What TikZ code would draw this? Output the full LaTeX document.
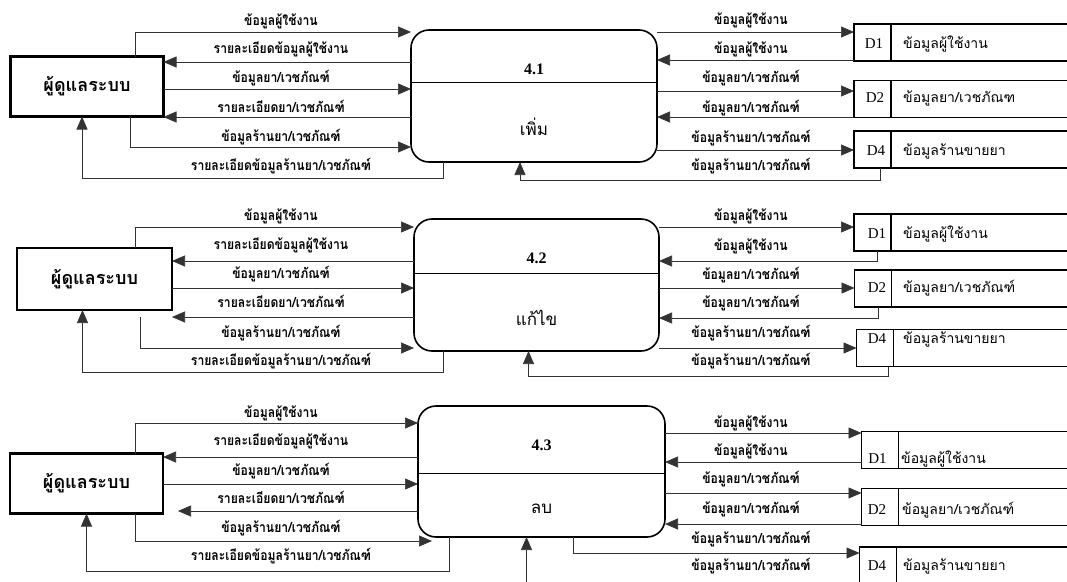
\documentclass[tikz,border=0pt]{standalone}
\usepackage{fontspec}
\setmainfont{Liberation Serif}
\newfontfamily\thai[Script=Thai]{Loma}
\newfontfamily\thailbl[Script=Thai,FakeStretch=0.87]{Loma}
\usetikzlibrary{arrows.meta}

\begin{document}
\begin{tikzpicture}[>={Triangle[length=13pt,width=11pt]},
                    x=1pt,y=-1pt,
                    flow/.style={->,line width=0.7pt,draw=black!80},
                    lbl/.style={anchor=base,inner sep=0pt,font=\thailbl\bfseries\fontsize{14}{16}\selectfont},
                    entity/.style={draw,line width=2.4pt,outer sep=0pt,
                                   minimum width=153pt,minimum height=60pt,
                                   font=\thai\bfseries\fontsize{18}{20}\selectfont},
                    proc/.style={draw,line width=1.6pt,outer sep=0pt,rounded corners=18pt,
                                 minimum width=246pt,minimum height=132pt},
                    pnum/.style={anchor=base,font=\bfseries\fontsize{16}{18}\selectfont},
                    pname/.style={anchor=base,font=\thai\fontsize{17}{19}\selectfont},
                    sid/.style={draw,line width=1.6pt,outer sep=0pt,
                                minimum width=37pt,minimum height=37pt},
                    sidt/.style={anchor=base,font=\fontsize{15}{17}\selectfont},
                    stxt/.style={anchor=base west,inner sep=0pt,font=\thai\fontsize{14}{16}\selectfont},
                    sline/.style={line width=1.6pt}]

\useasboundingbox (0,0) rectangle (1067,581);

% ---- 4.1 add
\draw node[entity] (A1) at (87,86.5) {ผู้ดูแลระบบ}
      node[proc] (P1) at (534,96) {}
      node[pnum] (P1n) at (534,74) {4.1}
      node[pname] (P1t) at (534,135) {เพิ่ม};
\draw (P1.west |- 0,82) -- (P1.east |- 0,82);

\draw node[sid] (S11) at (872.5,42.5) {}
      node[sidt] (S11i) at (874,48) {D1}
      node[stxt] (S11t) at (903,48) {ข้อมูลผู้ใช้งาน}
      node[sid] (S12) at (872.5,99) {}
      node[sidt] (S12i) at (875,102) {D2}
      node[stxt] (S12t) at (903,102) {ข้อมูลยา/เวชภัณฑ}
      node[sid] (S14) at (872.5,149.5) {}
      node[sidt] (S14i) at (876,155) {D4}
      node[stxt] (S14t) at (903,155) {ข้อมูลร้านขายยา};
\draw[sline] (S11.north east) -- (S11.north east -| 1067,0)
             (S11.south east) -- (S11.south east -| 1067,0)
             (S12.north east) -- (S12.north east -| 1067,0)
             (S12.south east) -- (S12.south east -| 1067,0)
             (S14.north east) -- (S14.north east -| 1067,0)
             (S14.south east) -- (S14.south east -| 1067,0);

\draw[flow] ([xshift=-28pt]A1.north east) |- (P1.west |- 0,32);
\draw[flow] (P1.west |- 0,62) -- (A1.east |- 0,62);
\draw[flow] (A1.east |- 0,89) -- (P1.west |- 0,89);
\draw[flow] (P1.west |- 0,117) -- (A1.east |- 0,117);
\draw[flow] ([xshift=-33pt]A1.south east) |- (P1.west |- 0,147);
\draw[flow] ([xshift=32pt]P1.south west) -- ++(0,16) -| ([xshift=-5pt]A1.south);

\draw[flow] (P1.east |- 0,32) -- (S11.west |- 0,32);
\draw[flow] (S11.west |- 0,60) -- (P1.east |- 0,60);
\draw[flow] (P1.east |- 0,91) -- (S12.west |- 0,91);
\draw[flow] (S12.west |- 0,117) -- (P1.east |- 0,117);
\draw[flow] (P1.east |- 0,150) -- (S14.west |- 0,150);
\draw[flow] ([xshift=-11pt]S14.south east) -- ++(0,12) -| ([xshift=-14pt]P1.south);

\draw node[lbl] (L11) at (281,25) {ข้อมูลผู้ใช้งาน}
      node[lbl] (L12) at (281,53) {รายละเอียดข้อมูลผู้ใช้งาน}
      node[lbl] (L13) at (281,82) {ข้อมูลยา/เวชภัณฑ์}
      node[lbl] (L14) at (281,112) {รายละเอียดยา/เวชภัณฑ์}
      node[lbl] (L15) at (281,141) {ข้อมูลร้านยา/เวชภัณฑ์}
      node[lbl] (L16) at (281,170) {รายละเอียดข้อมูลร้านยา/เวชภัณฑ์}
      node[lbl] (R11) at (751,24) {ข้อมูลผู้ใช้งาน}
      node[lbl] (R12) at (751,53) {ข้อมูลผู้ใช้งาน}
      node[lbl] (R13) at (751,82) {ข้อมูลยา/เวชภัณฑ์}
      node[lbl] (R14) at (751,112) {ข้อมูลยา/เวชภัณฑ์}
      node[lbl] (R15) at (751,142) {ข้อมูลร้านยา/เวชภัณฑ์}
      node[lbl] (R16) at (751,170) {ข้อมูลร้านยา/เวชภัณฑ์};

% ---- 4.2 edit
\draw node[entity,minimum width=155pt,minimum height=62pt] (A2) at (94.5,279) {ผู้ดูแลระบบ}
      node[proc,minimum width=245pt] (P2) at (536.5,285) {}
      node[pnum] (P2n) at (536.5,263) {4.2}
      node[pname] (P2t) at (536.5,325) {แก้ไข};
\draw (P2.west |- 0,273) -- (P2.east |- 0,273);

\draw node[sid] (S21) at (872.5,232.5) {}
      node[sidt] (S21i) at (877,238) {D1}
      node[stxt] (S21t) at (903,238) {ข้อมูลผู้ใช้งาน}
      node[sid] (S22) at (873,288.5) {}
      node[sidt] (S22i) at (877,292) {D2}
      node[stxt] (S22t) at (903,292) {ข้อมูลยา/เวชภัณฑ์}
      node[sid] (S24) at (875,348) {}
      node[sidt] (S24i) at (877,343) {D4}
      node[stxt] (S24t) at (903,343) {ข้อมูลร้านขายยา};
\draw[sline] (S21.north east) -- (S21.north east -| 1067,0)
             (S21.south east) -- (S21.south east -| 1067,0)
             (S22.north east) -- (S22.north east -| 1067,0)
             (S22.south east) -- (S22.south east -| 1067,0)
             (S24.north east) -- (S24.north east -| 1067,0)
             (S24.south east) -- (S24.south east -| 1067,0);

\draw[flow] ([xshift=-37pt]A2.north east) |- (P2.west |- 0,227);
\draw[flow] (P2.west |- 0,261) -- (A2.east |- 0,261);
\draw[flow] (A2.east |- 0,288) -- (P2.west |- 0,288);
\draw[flow] (P2.west |- 0,317) -- (A2.east |- 0,317);
\draw[flow] ([xshift=-32pt,yshift=-7pt]A2.south east) |- (P2.west |- 0,348);
\draw[flow] ([xshift=29pt]P2.south west) -- ++(0,21) -| ([xshift=-12pt]A2.south);

\draw[flow] (P2.east |- 0,227) -- (S21.west |- 0,227);
\draw[flow] ([xshift=5pt]S21.south) |- (P2.east |- 0,261);
\draw[flow] (P2.east |- 0,288) -- (S22.west |- 0,288);
\draw[flow] ([xshift=5pt]S22.south) |- (P2.east |- 0,318);
\draw[flow] (P2.east |- 0,348) -- (S24.west |- 0,348);
\draw[flow] ([xshift=13pt]S24.south) -- ++(0,10) -| ([xshift=-8pt]P2.south);

\draw node[lbl] (L21) at (281,220) {ข้อมูลผู้ใช้งาน}
      node[lbl] (L22) at (281,249) {รายละเอียดข้อมูลผู้ใช้งาน}
      node[lbl] (L23) at (281,278) {ข้อมูลยา/เวชภัณฑ์}
      node[lbl] (L24) at (281,307) {รายละเอียดยา/เวชภัณฑ์}
      node[lbl] (L25) at (281,337) {ข้อมูลร้านยา/เวชภัณฑ์}
      node[lbl] (L26) at (281,365) {รายละเอียดข้อมูลร้านยา/เวชภัณฑ์}
      node[lbl] (R21) at (751,220) {ข้อมูลผู้ใช้งาน}
      node[lbl] (R22) at (751,250) {ข้อมูลผู้ใช้งาน}
      node[lbl] (R23) at (751,279) {ข้อมูลยา/เวชภัณฑ์}
      node[lbl] (R24) at (751,307) {ข้อมูลยา/เวชภัณฑ์}
      node[lbl] (R25) at (751,337) {ข้อมูลร้านยา/เวชภัณฑ์}
      node[lbl] (R26) at (751,365) {ข้อมูลร้านยา/เวชภัณฑ์};

% ---- 4.3 delete
\draw node[entity,minimum height=60pt] (A3) at (86.5,483.5) {ผู้ดูแลระบบ}
      node[proc,minimum width=247pt,minimum height=131pt] (P3) at (541.5,471.5) {}
      node[pnum] (P3n) at (541.5,450) {4.3}
      node[pname] (P3t) at (541.5,513) {ลบ};
\draw (P3.west |- 0,473) -- (P3.east |- 0,473);

\draw node[sid] (S31) at (880,450) {}
      node[sidt] (S31i) at (877.5,463) {D1}
      node[stxt] (S31t) at (901,463) {ข้อมูลผู้ใช้งาน}
      node[sid] (S32) at (880,507) {}
      node[sidt] (S32i) at (877,514) {D2}
      node[stxt] (S32t) at (902,514) {ข้อมูลยา/เวชภัณฑ์}
      node[sid] (S34) at (878,565.5) {}
      node[sidt] (S34i) at (877,570) {D4}
      node[stxt] (S34t) at (903,570) {ข้อมูลร้านขายยา};
\draw[sline] (S31.north east) -- (S31.north east -| 1067,0)
             (S31.south east) -- (S31.south east -| 1067,0)
             (S32.north east) -- (S32.north east -| 1067,0)
             (S32.south east) -- (S32.south east -| 1067,0)
             (S34.north east) -- (S34.north east -| 1067,0);

\draw[flow] ([xshift=-28pt]A3.north east) |- (P3.west |- 0,423);
\draw[flow] (P3.west |- 0,457) -- (A3.east |- 0,457);
\draw[flow] (A3.east |- 0,484) -- (P3.west |- 0,484);
\draw[flow,shorten >=15pt] (P3.west |- 0,511) -- (A3.east |- 0,511);
\draw[flow,shorten >=-14pt] ([xshift=-28pt]A3.south east) |- (P3.west |- 0,541);
\draw[flow] ([xshift=31pt]P3.south west) -- ++(0,34) -| (A3.south);

\draw[flow] (P3.east |- 0,433) -- (S31.west |- 0,433);
\draw[flow] (S31.west |- 0,462) -- (P3.east |- 0,462);
\draw[flow] (P3.east |- 0,493) -- (S32.west |- 0,493);
\draw[flow] (S32.west |- 0,524) -- (P3.east |- 0,524);
\draw[flow] ([xshift=32pt]P3.south) |- (S34.west |- 0,553);
\draw[flow] ([xshift=5pt]S34.south) -- ++(0,12) -| ([xshift=-15pt]P3.south);

\draw node[lbl] (L31) at (281,417) {ข้อมูลผู้ใช้งาน}
      node[lbl] (L32) at (281,445) {รายละเอียดข้อมูลผู้ใช้งาน}
      node[lbl] (L33) at (281,475) {ข้อมูลยา/เวชภัณฑ์}
      node[lbl] (L34) at (281,503) {รายละเอียดยา/เวชภัณฑ์}
      node[lbl] (L35) at (281,532) {ข้อมูลร้านยา/เวชภัณฑ์}
      node[lbl] (L36) at (281,560) {รายละเอียดข้อมูลร้านยา/เวชภัณฑ์}
      node[lbl] (R31) at (751,427) {ข้อมูลผู้ใช้งาน}
      node[lbl] (R32) at (751,455) {ข้อมูลผู้ใช้งาน}
      node[lbl] (R33) at (751,483) {ข้อมูลยา/เวชภัณฑ์}
      node[lbl] (R34) at (751,513) {ข้อมูลยา/เวชภัณฑ์}
      node[lbl] (R35) at (751,543) {ข้อมูลร้านยา/เวชภัณฑ์}
      node[lbl] (R36) at (751,570) {ข้อมูลร้านยา/เวชภัณฑ์};

\end{tikzpicture}
\end{document}
